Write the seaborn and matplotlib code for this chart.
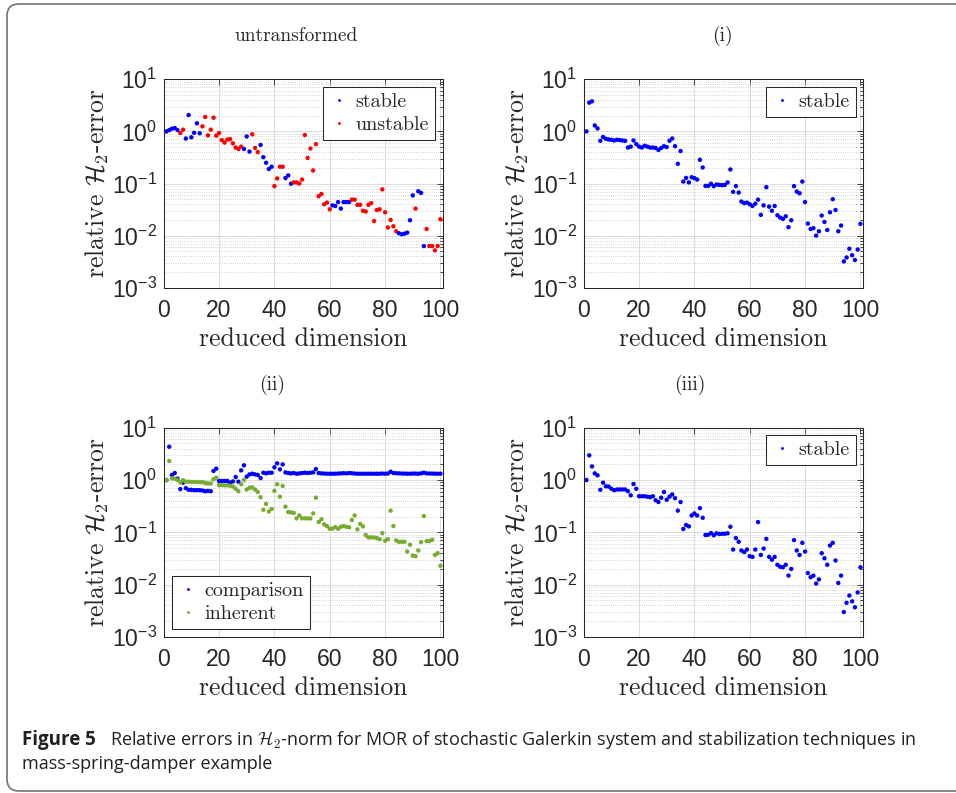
import numpy as np
import pandas as pd
import seaborn as sns
import matplotlib.pyplot as plt
from matplotlib.patches import FancyBboxPatch
from matplotlib.transforms import IdentityTransform
from matplotlib.ticker import FixedLocator, FuncFormatter, LogLocator, NullFormatter

# %% data
dims = list(range(1, 101))

err_untransformed = [
    1.00, 1.06, 1.13, 1.16, 1.06, 0.93, 1.08, 0.73, 2.06, 0.77,
    0.94, 1.43, 0.92, 1.25, 1.89, 0.84, 1.08, 1.83, 0.83, 0.93,
    0.68, 0.61, 0.70, 0.71, 0.59, 0.49, 0.46, 0.51, 0.46, 0.80,
    0.41, 0.88, 0.48, 0.40, 0.55, 0.32, 0.25, 0.19, 0.21, 0.089,
    0.125, 0.21, 0.21, 0.127, 0.143, 0.099, 0.105, 0.105, 0.100, 0.119,
    0.85, 0.31, 0.47, 0.178, 0.57, 0.057, 0.063, 0.040, 0.043, 0.032,
    0.038, 0.037, 0.044, 0.033, 0.044, 0.044, 0.044, 0.049, 0.049, 0.039,
    0.039, 0.030, 0.029, 0.039, 0.042, 0.019, 0.031, 0.032, 0.077, 0.028,
    0.0143, 0.020, 0.0151, 0.0121, 0.0111, 0.0106, 0.0109, 0.0114, 0.0197, 0.059,
    0.033, 0.071, 0.066, 0.0063, 0.0134, 0.0063, 0.0063, 0.0052, 0.0063, 0.0206,
]
stable_dims_untransformed = [1, 2, 3, 4, 5, 8, 9, 10, 11, 12, 13, 29, 30, 31,
                             35, 36, 37, 38, 39, 44, 45, 46, 61, 62, 63, 64, 65,
                             66, 67, 85, 86, 87, 88, 89, 90, 92, 93, 94]

err_i = [
    1.00, 3.56, 3.78, 1.30, 1.14, 0.66, 0.78, 0.72, 0.70, 0.69,
    0.67, 0.69, 0.68, 0.67, 0.66, 0.49, 0.51, 0.67, 0.57, 0.51,
    0.49, 0.53, 0.51, 0.49, 0.49, 0.48, 0.44, 0.48, 0.52, 0.50,
    0.66, 0.73, 0.52, 0.239, 0.42, 0.109, 0.128, 0.105, 0.132, 0.127,
    0.119, 0.285, 0.203, 0.090, 0.090, 0.099, 0.089, 0.096, 0.094, 0.093,
    0.094, 0.105, 0.186, 0.069, 0.089, 0.067, 0.045, 0.042, 0.043, 0.040,
    0.037, 0.041, 0.049, 0.025, 0.038, 0.085, 0.036, 0.030, 0.037, 0.0246,
    0.0222, 0.0209, 0.0235, 0.0145, 0.0197, 0.089, 0.070, 0.065, 0.109, 0.044,
    0.017, 0.0134, 0.0139, 0.0100, 0.0121, 0.0243, 0.0183, 0.0128, 0.028, 0.050,
    0.031, 0.0121, 0.0156, 0.0032, 0.0038, 0.0056, 0.0042, 0.0034, 0.0054, 0.0168,
]

err_comparison = [
    1.00, 4.33, 1.25, 1.36, 1.06, 0.67, 0.89, 0.70, 0.65, 0.65,
    0.64, 0.64, 0.64, 0.63, 0.61, 0.62, 0.61, 1.49, 1.65, 0.96,
    0.96, 0.96, 0.96, 0.89, 0.94, 1.14, 0.93, 1.53, 1.91, 1.16,
    1.28, 1.32, 1.28, 1.25, 1.09, 1.38, 1.34, 1.38, 1.38, 1.75,
    2.08, 1.60, 1.99, 1.40, 1.36, 1.34, 1.36, 1.32, 1.34, 1.36,
    1.38, 1.36, 1.38, 1.40, 1.62, 1.36, 1.34, 1.33, 1.32, 1.32,
    1.32, 1.32, 1.33, 1.34, 1.35, 1.34, 1.36, 1.35, 1.33, 1.32,
    1.32, 1.32, 1.32, 1.32, 1.32, 1.32, 1.32, 1.32, 1.33, 1.32,
    1.33, 1.44, 1.36, 1.35, 1.34, 1.33, 1.33, 1.32, 1.32, 1.33,
    1.33, 1.32, 1.34, 1.38, 1.34, 1.33, 1.33, 1.32, 1.32, 1.32,
]
err_inherent = [
    1.00, 2.31, 1.08, 1.06, 1.00, 0.90, 0.99, 0.93, 0.93, 0.92,
    0.92, 0.92, 0.91, 0.91, 0.88, 0.86, 0.86, 1.03, 1.11, 0.80,
    0.80, 0.79, 0.79, 0.78, 0.75, 0.68, 0.61, 0.83, 1.00, 0.66,
    0.71, 0.72, 0.66, 0.59, 0.47, 0.27, 0.35, 0.25, 0.28, 0.62,
    0.83, 0.48, 0.77, 0.31, 0.245, 0.24, 0.235, 0.185, 0.21, 0.185,
    0.185, 0.185, 0.185, 0.23, 0.46, 0.158, 0.178, 0.142, 0.132, 0.117,
    0.118, 0.126, 0.117, 0.128, 0.132, 0.128, 0.125, 0.172, 0.21, 0.114,
    0.145, 0.13, 0.089, 0.080, 0.080, 0.080, 0.078, 0.074, 0.097, 0.069,
    0.074, 0.26, 0.132, 0.070, 0.066, 0.066, 0.066, 0.043, 0.058, 0.036,
    0.035, 0.045, 0.065, 0.205, 0.068, 0.068, 0.072, 0.037, 0.040, 0.023,
]

err_iii = [
    1.00, 2.96, 1.82, 1.34, 1.23, 0.65, 0.89, 0.76, 0.75, 0.68,
    0.64, 0.66, 0.66, 0.66, 0.66, 0.61, 0.51, 0.84, 0.68, 0.49,
    0.49, 0.49, 0.48, 0.47, 0.49, 0.41, 0.38, 0.46, 0.59, 0.42,
    0.48, 0.53, 0.45, 0.26, 0.38, 0.116, 0.138, 0.13, 0.21, 0.23,
    0.21, 0.29, 0.19, 0.089, 0.090, 0.097, 0.088, 0.096, 0.093, 0.094,
    0.094, 0.096, 0.128, 0.047, 0.078, 0.066, 0.045, 0.042, 0.047, 0.035,
    0.034, 0.047, 0.157, 0.037, 0.049, 0.075, 0.034, 0.030, 0.034, 0.024,
    0.022, 0.0215, 0.024, 0.0149, 0.020, 0.071, 0.045, 0.037, 0.063, 0.043,
    0.0167, 0.0139, 0.0149, 0.0105, 0.0126, 0.040, 0.032, 0.024, 0.056, 0.063,
    0.029, 0.0108, 0.0149, 0.0030, 0.0045, 0.0062, 0.0048, 0.0037, 0.0071, 0.0215,
]

x_ticks = [0, 20, 40, 60, 80, 100]
y_exponents = [-3, -2, -1, 0, 1]

# %% frames
df_untr = pd.DataFrame({'dim': dims, 'err': err_untransformed})
df_untr['kind'] = np.where(df_untr['dim'].isin(stable_dims_untransformed), 'stable', 'unstable')

df_i = pd.DataFrame({'dim': dims, 'err': err_i, 'kind': 'stable'})
df_iii = pd.DataFrame({'dim': dims, 'err': err_iii, 'kind': 'stable'})

df_ii = pd.concat([
    pd.DataFrame({'dim': dims, 'err': err_comparison, 'kind': 'comparison'}),
    pd.DataFrame({'dim': dims, 'err': err_inherent, 'kind': 'inherent'}),
])

# %% plot
sns.set_style("white")
plt.rcParams['font.family'] = ['Liberation Sans', 'DejaVu Sans']
plt.rcParams['mathtext.fontset'] = 'cm'

W, H = 956, 793
fig = plt.figure(figsize=(W / 100, H / 100), dpi=100)


def axes_px(left, top, right, bottom):
    return fig.add_axes([left / W, 1 - bottom / H, (right - left) / W, (bottom - top) / H])


def style_axes(ax, title, tx, ty):
    ax.set_yscale('log')
    ax.set_xlim(0, 101)
    ax.set_ylim(1e-3, 1e1)
    ax.xaxis.set_major_locator(FixedLocator(x_ticks))
    ax.yaxis.set_major_locator(FixedLocator([10.0 ** e for e in y_exponents]))
    ax.yaxis.set_major_formatter(
        FuncFormatter(lambda v, p: r'$\mathregular{10^{%d}}$' % round(np.log10(v))))
    ax.yaxis.set_minor_locator(LogLocator(base=10, subs=np.arange(2, 10), numticks=20))
    ax.yaxis.set_minor_formatter(NullFormatter())
    ax.tick_params(which='both', direction='in', top=True, right=True,
                   labelsize=16.5, color='0.15', width=0.6)
    ax.tick_params(axis='x', pad=8)
    ax.tick_params(axis='y', pad=5)
    ax.tick_params(which='major', length=4.5)
    ax.tick_params(which='minor', length=2.5)
    ax.grid(True, which='major', color='0.86', lw=0.7, ls='-')
    ax.grid(True, which='minor', axis='y', color='0.78', lw=0.6, ls=':')
    ax.set_axisbelow(True)
    for sp in ax.spines.values():
        sp.set_visible(True)
        sp.set_color('0.15')
        sp.set_linewidth(0.75)
    ax.set_xlabel('reduced dimension', family='cmr10', fontsize=18.5, va='center')
    ax.xaxis.set_label_coords(0.5, -0.245)
    ax.set_ylabel(r'relative $\mathcal{H}_2$-error', family='cmr10', fontsize=18.5, va='center')
    ax.yaxis.set_label_coords(-0.239, 0.5)
    fig.text(tx / W, 1 - ty / H, title, family='cmr10', fontsize=14, ha='center', va='center')


def restyle_legend(ax, **kw):
    leg = ax.get_legend()
    handles = leg.legend_handles
    labels = [t.get_text() for t in leg.get_texts()]
    ax.legend(handles, labels, borderaxespad=0, frameon=True, fancybox=False,
              edgecolor='0.15', framealpha=1, prop={'family': 'cmr10', 'size': 14.5},
              handletextpad=0.3, handlelength=1.0, borderpad=0.3, labelspacing=0.25,
              markerscale=0.65, **kw).get_frame().set_linewidth(0.75)


ax1 = axes_px(163.7, 79.3, 443.2, 287.7)
ax2 = axes_px(583.7, 79.3, 863.2, 287.7)
ax3 = axes_px(163.7, 427.7, 443.2, 637.0)
ax4 = axes_px(583.7, 427.7, 863.2, 637.0)

sns.scatterplot(data=df_untr, x='dim', y='err', hue='kind', hue_order=['stable', 'unstable'],
                palette={'stable': 'blue', 'unstable': 'red'}, s=10, linewidth=0, ax=ax1)
sns.scatterplot(data=df_i, x='dim', y='err', hue='kind', palette={'stable': 'blue'},
                s=10, linewidth=0, ax=ax2)
sns.scatterplot(data=df_ii, x='dim', y='err', hue='kind', hue_order=['comparison', 'inherent'],
                palette={'comparison': 'blue', 'inherent': '#77ac30'}, s=10, linewidth=0, ax=ax3)
sns.scatterplot(data=df_iii, x='dim', y='err', hue='kind', palette={'stable': 'blue'},
                s=10, linewidth=0, ax=ax4)

style_axes(ax1, 'untransformed', 296, 36)
style_axes(ax2, '(i)', 722, 36)
style_axes(ax3, '(ii)', 272, 385)
style_axes(ax4, '(iii)', 690, 385)

restyle_legend(ax1, loc='upper right', bbox_to_anchor=(0.971, 0.965))
restyle_legend(ax2, loc='upper right', bbox_to_anchor=(0.973, 0.965))
restyle_legend(ax3, loc='lower left', bbox_to_anchor=(0.030, 0.038))
restyle_legend(ax4, loc='upper right', bbox_to_anchor=(0.973, 0.965))

# caption
cap_col = '#231f20'
fig.text(22 / W, 1 - 740 / H, 'Figure 5', family='Open Sans', weight='bold',
         fontsize=13.5, va='center', color=cap_col)
fig.text(110 / W, 1 - 740 / H,
         r'Relative errors in $\mathcal{H}_2$-norm for MOR of stochastic Galerkin system '
         'and stabilization techniques in',
         family='Open Sans', fontsize=13, va='center', color=cap_col)
fig.text(22 / W, 1 - 764 / H, 'mass-spring-damper example', family='Open Sans',
         fontsize=13, va='center', color=cap_col)

# rounded frame round the whole figure
fig.add_artist(FancyBboxPatch((7, 2), 975, 787, boxstyle='round,pad=0,rounding_size=12',
                              transform=IdentityTransform(), fill=False,
                              edgecolor='0.45', lw=1.2))

fig.savefig('out.png', dpi=100)
